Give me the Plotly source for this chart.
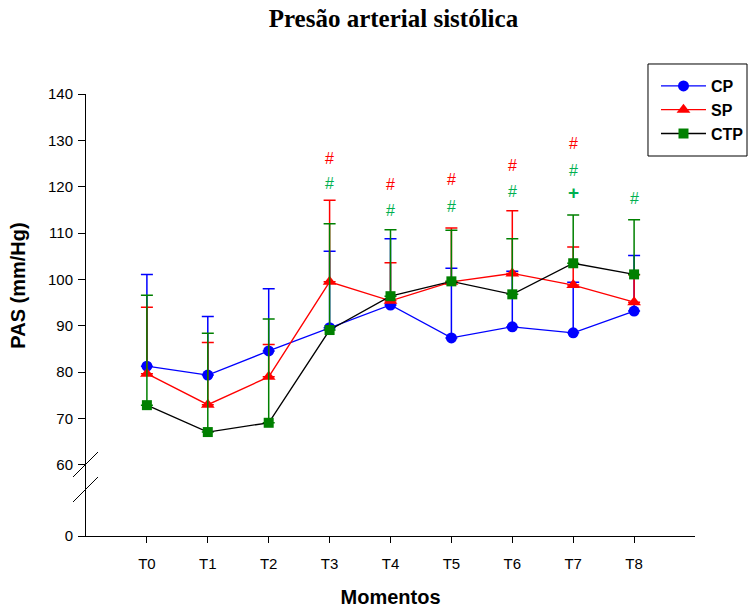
import plotly.graph_objects as go

momentos = ["T0", "T1", "T2", "T3", "T4", "T5", "T6", "T7", "T8"]

cp_mean = [81.3, 79.4, 84.6, 89.6, 94.5, 87.4, 89.8, 88.5, 93.2]
cp_upper = [101.1, 92.0, 98.0, 106.1, 108.8, 102.4, 101.8, 99.4, 105.2]

sp_mean = [79.7, 73.0, 79.0, 99.5, 95.4, 99.5, 101.3, 98.8, 95.1]
sp_upper = [94.0, 86.4, 86.0, 117.1, 103.6, 111.1, 114.8, 107.0, 101.0]

ctp_mean = [72.9, 67.1, 69.1, 89.1, 96.4, 99.6, 96.8, 103.5, 101.1]
ctp_upper = [96.6, 88.4, 91.5, 112.0, 110.7, 110.6, 108.8, 113.9, 112.9]

# significance marks
marks_x = ["T3", "T3", "T4", "T4", "T5", "T5", "T6", "T6", "T7", "T7", "T7", "T8"]
marks_y = [126.0, 120.6, 120.4, 114.8, 121.5, 115.8, 124.5, 118.9, 129.4, 123.6, 118.7, 117.4]
marks_t = ["#", "#", "#", "#", "#", "#", "#", "#", "#", "#", "+", "#"]
marks_c = ["r", "g", "r", "g", "r", "g", "r", "g", "r", "g", "g", "g"]

RED = "#ff0000"
BLUE = "#0000ff"
GREEN = "#008000"
LGREEN = "#00b050"

fig = go.Figure()

def add(name, mean, upper, line_col, mk_col, err_col, symbol, size):
    fig.add_trace(go.Scatter(
        x=momentos, y=mean, name=f"<b>{name}</b>", mode="lines+markers",
        line=dict(color=line_col, width=1.3),
        marker=dict(color=mk_col, symbol=symbol, size=size, line=dict(width=0)),
        error_y=dict(type="data", symmetric=False,
                     array=[u - m for u, m in zip(upper, mean)],
                     arrayminus=[0] * len(mean),
                     color=err_col, thickness=1.5, width=6),
        xaxis="x", yaxis="y",
    ))

add("CP", cp_mean, cp_upper, BLUE, BLUE, BLUE, "circle", 11)
add("SP", sp_mean, sp_upper, RED, RED, RED, "triangle-up", 12)
add("CTP", ctp_mean, ctp_upper, "black", GREEN, GREEN, "square", 10)

# empty trace so the lower (broken) axis segment is rendered
fig.add_trace(go.Scatter(x=momentos, y=[None] * len(momentos), xaxis="x", yaxis="y2",
                         showlegend=False, hoverinfo="skip", mode="lines"))

for x, y, t, c in zip(marks_x, marks_y, marks_t, marks_c):
    fig.add_annotation(
        x=x, y=y, xref="x", yref="y", text=("<b>+</b>" if t == "+" else t), showarrow=False,
        font=dict(family="Liberation Sans, Arial", size=19 if t == "+" else 16,
                  color=RED if c == "r" else LGREEN),
    )

# axis break slashes
for y0, y1 in [(0.1335, 0.190), (0.0769, 0.1335)]:
    fig.add_shape(type="line", xref="paper", yref="paper",
                  x0=-0.0213, x1=0.0197, y0=y0, y1=y1,
                  line=dict(color="black", width=1))

# legend frame
fig.add_shape(type="rect", xref="paper", yref="paper",
              x0=0.9228, x1=1.0854, y0=0.8597, y1=1.0679,
              line=dict(color="black", width=1), fillcolor="rgba(0,0,0,0)", layer="above")

tick_font = dict(family="Liberation Sans, Arial", size=15, color="black")

fig.update_layout(
    width=748, height=608,
    margin=dict(l=86, r=53, t=94, b=72, autoexpand=False),
    paper_bgcolor="white", plot_bgcolor="white",
    title=dict(text="<b>Presão arterial sistólica</b>", x=0.526, xanchor="center",
               y=0.97, yanchor="middle",
               font=dict(family="Liberation Serif, Times New Roman", size=25, color="black")),
    font=dict(family="Liberation Sans, Arial", size=15, color="black"),
    xaxis=dict(type="category", range=[-1, 9], anchor="y2", automargin=False,
               showline=True, linecolor="black", linewidth=1,
               ticks="outside", ticklen=6, tickcolor="black", tickfont=tick_font,
               ticklabelstandoff=8,
               showgrid=False, zeroline=False,
               title=dict(text="<b>Momentos</b>", font=dict(size=20), standoff=18)),
    yaxis=dict(domain=[0.1335, 1], range=[57.41, 140], anchor="x", automargin=False,
               tickvals=[60, 70, 80, 90, 100, 110, 120, 130, 140],
               showline=True, linecolor="black", linewidth=1,
               ticks="outside", ticklen=7, tickcolor="black", tickfont=tick_font,
               ticklabelstandoff=2,
               showgrid=False, zeroline=False,
               title=dict(text="<b>PAS (mm/Hg)</b>", font=dict(size=20), standoff=16)),
    yaxis2=dict(domain=[0, 0.1335], range=[0, 12.7], anchor="x", automargin=False,
                tickvals=[0], showline=True, linecolor="black", linewidth=1,
                ticks="outside", ticklen=7, tickcolor="black", tickfont=tick_font,
                ticklabelstandoff=2,
                showgrid=False, zeroline=False),
    legend=dict(x=0.877, y=0.8865, xref="container", yref="container",
                xanchor="left", yanchor="top",
                borderwidth=0, bgcolor="rgba(0,0,0,0)",
                font=dict(size=16, family="Liberation Sans, Arial"),
                itemwidth=45, tracegroupgap=0),
    showlegend=True,
)

fig.write_html("out.html")
